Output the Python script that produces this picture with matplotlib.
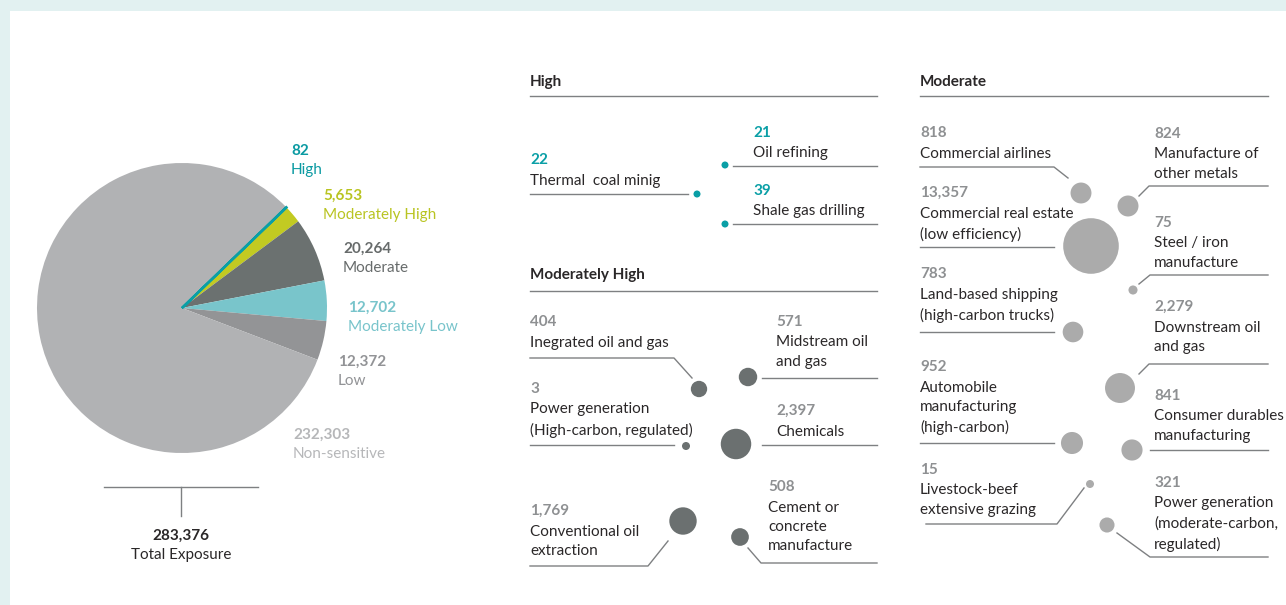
import matplotlib
matplotlib.use("Agg")
import matplotlib.pyplot as plt
from matplotlib.patches import Circle, Rectangle

W, H = 1286, 605

# exposure by sensitivity class
pie_names = ["High", "Moderately High", "Moderate", "Moderately Low", "Low", "Non-sensitive"]
pie_values = [82, 5653, 20264, 12702, 12372, 232303]
total_value = 283376

# sector breakdowns
high_names = ["Thermal  coal minig", "Oil refining", "Shale gas drilling"]
high_values = [22, 21, 39]

modhigh_names = ["Inegrated oil and gas", "Midstream oil\nand gas",
                 "Power generation\n(High-carbon, regulated)", "Chemicals",
                 "Conventional oil\nextraction", "Cement or\nconcrete\nmanufacture"]
modhigh_values = [404, 571, 3, 2397, 1769, 508]

moderate_names = ["Commercial airlines", "Manufacture of\nother metals",
                  "Commercial real estate\n(low efficiency)", "Steel / iron\nmanufacture",
                  "Land-based shipping\n(high-carbon trucks)", "Downstream oil\nand gas",
                  "Automobile\nmanufacturing\n(high-carbon)", "Consumer durables\nmanufacturing",
                  "Livestock-beef\nextensive grazing", "Power generation\n(moderate-carbon,\nregulated)"]
moderate_values = [818, 824, 13357, 75, 783, 2279, 952, 841, 15, 321]

pie_colors = ["#0A9FA6", "#C2CA22", "#6B7170", "#79C5CB", "#939496", "#B1B2B4"]
label_colors = ["#0A9AA2", "#B9C421", "#676B6B", "#78C4CB", "#929396", "#B6B7B9"]
TEAL = "#0A9FA6"
TXT = "#2A2728"
NUMGRAY = "#8E9092"
LINE = "#7E8082"

plt.rcParams["font.family"] = ["Lato", "DejaVu Sans"]

fig = plt.figure(figsize=(W / 100, H / 100), dpi=100)
ax = fig.add_axes([0, 0, 1, 1])

# pie: y axis is flipped below, so counterclock in data runs clockwise on screen
wedges, _ = ax.pie(pie_values, colors=pie_colors, startangle=-44, counterclock=True,
                   radius=145, center=(182, 308), wedgeprops=dict(linewidth=0))
# the High slice is tiny, give it an outline so it stays visible
wedges[0].set_edgecolor(pie_colors[0])
wedges[0].set_linewidth(1.8)
wedges[0].set_zorder(5)

ax.set_xlim(0, W)
ax.set_ylim(H, 0)
ax.set_aspect("equal")
ax.axis("off")

# frame band
ax.add_patch(Rectangle((0, 0), W, 11, color="#E2F1F1", lw=0, zorder=0))
ax.add_patch(Rectangle((0, 0), 10, H, color="#E2F1F1", lw=0, zorder=0))

FS = 11

pie_label_pos = [(291, 151), (323, 196), (343, 249), (348, 308), (338, 362), (293, 435)]
for (x, y), name, val, col in zip(pie_label_pos, pie_names, pie_values, label_colors):
    ax.text(x, y, f"{val:,}", color=col, fontsize=FS, fontweight="bold", va="center")
    ax.text(x, y + 19, name, color=col, fontsize=FS, va="center")

# total exposure bracket
ax.plot([104, 258], [487, 487], color=LINE, lw=1)
ax.plot([181, 181], [487, 516], color=LINE, lw=1)
ax.text(181, 536, f"{total_value:,}", color=TXT, fontsize=FS, fontweight="bold",
        ha="center", va="center")
ax.text(181, 555, "Total Exposure", color=TXT, fontsize=FS, ha="center", va="center")


def radius(v):
    return max(4.0, v ** 0.35)


def section(title, x0, x1, ytitle, yrule):
    ax.text(x0, ytitle, title, color=TXT, fontsize=FS, fontweight="bold", va="center")
    ax.plot([x0, x1], [yrule, yrule], color=LINE, lw=1)


def item(name, val, tx, ty, bx, by, path, numcol, dotcol, dot_r=None):
    ax.text(tx, ty, f"{val:,}", color=numcol, fontsize=FS, fontweight="bold", va="center")
    ax.text(tx, ty + 13.5, name, color=TXT, fontsize=FS, va="top", linespacing=1.5)
    xs, ys = zip(*path)
    ax.plot(xs, ys, color=LINE, lw=1)
    r = dot_r if dot_r is not None else radius(val)
    ax.add_patch(Circle((bx, by), r, color=dotcol, lw=0, zorder=3))


# High
section("High", 530, 877, 82, 96)
high_layout = [
    (530, 160, 697, 194, [(530, 194), (688, 194)]),
    (753, 133, 725, 165, [(733, 166), (877, 166)]),
    (753, 191, 725, 224, [(733, 224), (877, 224)]),
]
for name, val, (tx, ty, bx, by, path) in zip(high_names, high_values, high_layout):
    item(name, val, tx, ty, bx, by, path, TEAL, TEAL, dot_r=3.5)

# Moderately High
section("Moderately High", 530, 877, 275, 291)
modhigh_layout = [
    (530, 322, 699, 389, [(530, 358), (674, 358), (692, 378)]),
    (776, 322, 748, 377, [(762, 378), (877, 378)]),
    (530, 389, 686, 446, [(530, 445), (674, 445)]),
    (776, 411, 736, 444, [(762, 445), (877, 445)]),
    (530, 511, 683, 521, [(530, 566), (648, 566), (668, 541)]),
    (768, 487, 740, 537, [(748, 548), (761, 563), (877, 563)]),
]
for name, val, (tx, ty, bx, by, path) in zip(modhigh_names, modhigh_values, modhigh_layout):
    item(name, val, tx, ty, bx, by, path, NUMGRAY, "#6B7070")

# Moderate
section("Moderate", 920, 1268, 82, 96)
moderate_layout = [
    (920, 133, 1081, 193, [(920, 167), (1054, 167), (1068, 178)]),
    (1154, 134, 1128, 206, [(1268, 186), (1149, 186), (1139, 196)]),
    (920, 193, 1091, 246, [(920, 247), (1054, 247)]),
    (1154, 223, 1133, 290, [(1268, 275), (1150, 275), (1139, 284)]),
    (920, 274, 1073, 332, [(920, 332), (1054, 332)]),
    (1154, 307, 1120, 388, [(1268, 364), (1149, 364), (1139, 374)]),
    (920, 367, 1072, 443, [(920, 443), (1054, 443)]),
    (1154, 396, 1132, 450, [(1150, 450), (1268, 450)]),
    (920, 470, 1090, 484, [(926, 524), (1057, 524), (1084, 488)]),
    (1154, 483, 1107, 525, [(1117, 533), (1150, 557), (1268, 557)]),
]
for name, val, (tx, ty, bx, by, path) in zip(moderate_names, moderate_values, moderate_layout):
    item(name, val, tx, ty, bx, by, path, NUMGRAY, "#ABABAB")

fig.savefig("out.png", dpi=100, facecolor="white")
